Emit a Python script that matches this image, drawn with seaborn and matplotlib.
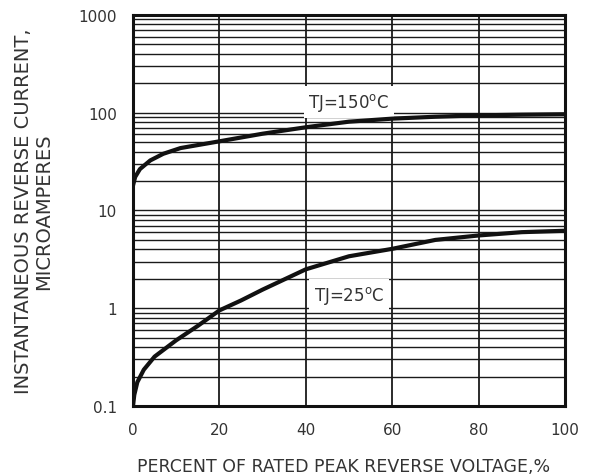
import matplotlib
matplotlib.use("Agg")
import matplotlib.pyplot as plt
import matplotlib.ticker as mticker
import seaborn as sns
import pandas as pd

# ---- data ----
x_150 = [0, 0.5, 1.6, 4, 7, 11, 20, 30, 40, 50, 60, 70, 80, 90, 100]
i_150 = [18, 22, 26.5, 32.5, 38, 43.5, 51, 61, 71, 81, 87, 91, 94, 95.5, 96.5]

x_25 = [0, 0.3, 1, 2.5, 5, 10, 15, 20, 25, 30, 40, 50, 60, 70, 80, 90, 100]
i_25 = [0.1, 0.13, 0.175, 0.235, 0.32, 0.47, 0.66, 0.95, 1.2, 1.55, 2.5, 3.4, 4.05, 5.0, 5.55, 6.0, 6.2]

x_ticks = [0, 20, 40, 60, 80, 100]
y_ticks = [0.1, 1, 10, 100, 1000]
y_tick_labels = ["0.1", "1", "10", "100", "1000"]

label_150 = "TJ=150$^{\\mathregular{o}}$C"
label_25 = "TJ=25$^{\\mathregular{o}}$C"
x_title = "PERCENT OF RATED PEAK REVERSE VOLTAGE,%"
y_title = "INSTANTANEOUS REVERSE CURRENT,\nMICROAMPERES"

df150 = pd.DataFrame({"x": x_150, "y": i_150})
df25 = pd.DataFrame({"x": x_25, "y": i_25})

sns.set_theme(style="white")
plt.rcParams["font.family"] = ["DejaVu Sans"]
txt = "#333333"

fig = plt.figure(figsize=(6.16, 4.77), dpi=100)
ax = fig.add_axes([0.2159, 0.1468, 0.7013, 0.8197])

sns.lineplot(data=df150, x="x", y="y", ax=ax, color="#111111", linewidth=3.0, zorder=5)
sns.lineplot(data=df25, x="x", y="y", ax=ax, color="#111111", linewidth=3.0, zorder=5)

ax.set_yscale("log")
ax.set_xlim(0, 100)
ax.set_ylim(0.1, 1000)
ax.set_xticks(x_ticks)
ax.set_xticklabels([str(v) for v in x_ticks])
ax.set_yticks(y_ticks)
ax.set_yticklabels(y_tick_labels)
ax.yaxis.set_minor_locator(mticker.LogLocator(base=10, subs=range(2, 10), numticks=20))
ax.yaxis.set_minor_formatter(mticker.NullFormatter())

ax.grid(True, which="both", axis="y", color="#1a1a1a", linewidth=1.0)
ax.grid(True, which="major", axis="x", color="#1a1a1a", linewidth=1.3)
ax.set_axisbelow(True)

ax.tick_params(axis="both", which="both", length=0, labelsize=11, labelcolor=txt)
ax.tick_params(axis="y", pad=11.5)
ax.tick_params(axis="x", pad=11.5)

for s in ax.spines.values():
    s.set_visible(True)
    s.set_color("#111111")
    s.set_linewidth(2.2)

ax.set_xlabel(x_title, fontsize=12.5, color=txt)
ax.set_ylabel(y_title, fontsize=14, color=txt, linespacing=1.1)
ax.xaxis.label.set_va("baseline")
ax.xaxis.set_label_coords(0.488, -0.1662)
ax.yaxis.set_label_coords(-0.185, 0.5)

box = dict(facecolor="white", edgecolor="none", pad=3.5)
ax.text(50, 128, label_150, ha="center", va="center", fontsize=12, color=txt, bbox=box, zorder=4)
ax.text(50, 1.38, label_25, ha="center", va="center", fontsize=12, color=txt, bbox=box, zorder=4)

fig.savefig("out.png", dpi=100)
